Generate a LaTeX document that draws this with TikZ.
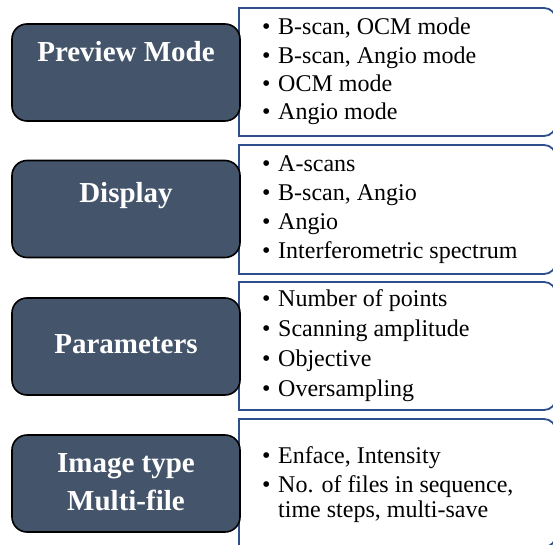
\documentclass[tikz,border=0pt]{standalone}
\usepackage{fontspec}
\setmainfont{Liberation Serif}
\definecolor{slate}{RGB}{68,84,106}
\definecolor{navy}{RGB}{47,78,140}
\tikzset{
  headbox/.style={draw=black, line width=1.6pt, fill=slate, rounded corners=15pt,
    minimum width=228pt, minimum height=97pt},
  headtxt/.style={text=white, font=\bfseries\fontsize{29}{38}\selectfont, anchor=base, inner sep=0pt},
  item/.style={anchor=base west, inner sep=0pt, font=\fontsize{24}{29}\selectfont},
  listbox/.style={draw=navy, line width=1.8pt, fill=white}
}
\newcommand{\itm}[3]{\node[item] (#1) at (262,#2) {\makebox[16pt][l]{\textbullet}#3};}
\begin{document}
\begin{tikzpicture}[x=1pt,y=1pt]
  \useasboundingbox (0,0) rectangle (553,544);

  % list boxes, rounded on the right side only
  \foreach \t/\b in {536/408, 399/270, 262/134, 125/-3}
    \draw[listbox] (239,\t) -- (544,\t) arc[start angle=90,end angle=0,radius=12]
      -- (556,\b+12) arc[start angle=0,end angle=-90,radius=12] -- (239,\b) -- cycle;

  % heading boxes
  \node[headbox] (preview) at (126,471.5) {};
  \node[headbox] (display) at (126,335) {};
  \node[headbox] (params) at (126,197.5) {};
  \node[headbox] (imgtype) at (126,60.5) {};

  \node[headtxt] (previewtxt) at (126,482) {Preview Mode};
  \node[headtxt] (displaytxt) at (126,341) {Display};
  \node[headtxt] (paramstxt) at (126,191) {Parameters};
  \node[headtxt] (imgtxta) at (126,72) {Image type};
  \node[headtxt] (imgtxtb) at (126,34) {Multi-file};

  % list entries
  \itm{p1}{509}{B-scan, OCM mode}
  \itm{p2}{480.7}{B-scan, Angio mode}
  \itm{p3}{452.3}{OCM mode}
  \itm{p4}{424}{Angio mode}

  \itm{d1}{372}{A-scans}
  \itm{d2}{343}{B-scan, Angio}
  \itm{d3}{314}{Angio}
  \itm{d4}{285.5}{Interferometric spectrum}

  \itm{q1}{237.3}{Number of points}
  \itm{q2}{207.3}{Scanning amplitude}
  \itm{q3}{177.3}{Objective}
  \itm{q4}{148}{Oversampling}

  \itm{m1}{81}{Enface, Intensity}
  \itm{m2}{52}{No. of files in sequence,}
  \node[item] (m3) at (278,27) {time steps, multi-save};
\end{tikzpicture}
\end{document}
